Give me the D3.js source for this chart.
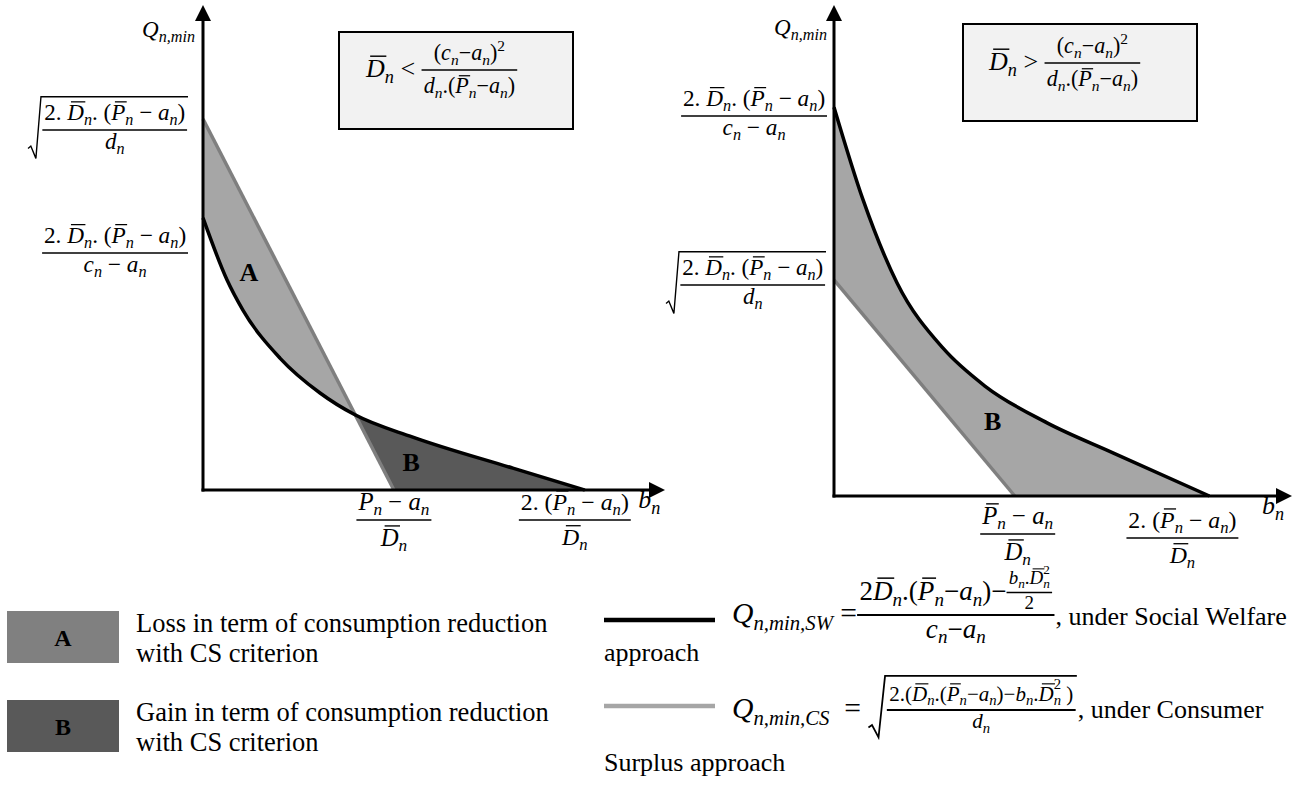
<!DOCTYPE html>
<html><head><meta charset="utf-8">
<script src="https://cdn.jsdelivr.net/npm/d3@7"></script>
<style>body{margin:0;background:#fff}svg{display:block}text{white-space:pre}</style>
</head><body>
<svg id="c" width="1308" height="798"></svg>
<script>
// ---------------- data ----------------
const bLeftSW  = [0, 0.126, 0.209, 0.403, 0.613, 0.796, 1.099, 1.623, 2.0];
const qLeftSW  = [56.1, 43.3, 37.1, 27.2, 20.0, 15.5, 10.9, 4.5, 0];
const bLeftCS  = [0, 1.0];
const qLeftCS  = [76.5, 0];
const bRightSW = [0, 0.155, 0.336, 0.581, 0.804, 1.135, 1.486, 2.0];
const qRightSW = [79.2, 60.3, 43.4, 30.1, 22.4, 14.9, 8.8, 0];
const bRightCS = [0, 0.963];
const qRightCS = [44.0, 0];
const regionLetters = ["A", "B", "B"];
const legendAreaLabels = ["A", "B"];
const legendAreaText = [["Loss in term of consumption reduction", "with CS criterion"],
                        ["Gain in term of consumption reduction", "with CS criterion"]];
const legendLineTail = [", under Social Welfare", ", under Consumer"];
const legendLineWrap = ["approach", "Surplus approach"];

// ---------------- setup ----------------
const svg = d3.select('#c');
const MF = "'Liberation Serif','Times New Roman',serif";
const meas = svg.append('text').attr('x', -2000).attr('y', -2000).style('font-family', MF);
function tw(s, size, it, bold) {
  meas.style('font-size', size + 'px').style('font-style', it ? 'italic' : 'normal')
      .style('font-weight', bold ? 'bold' : 'normal').text(s);
  return meas.node().getComputedTextLength();
}
const v = (s, bar) => ({k: 't', s, it: true, bar: !!bar});
const r = s => ({k: 't', s, it: false});
const sb = s => ({k: 'sub', s});
const sup = s => ({k: 'sup', s});
const ss = (a, b) => ({k: 'subsup', a, b});
const fr = (num, den, sc) => ({k: 'frac', num, den, sc: sc || 1});
const sq = body => ({k: 'sqrt', body});

function txt(g, s, x, y, S, it) {
  return g.append('text').attr('x', x).attr('y', y).style('font-family', MF)
    .style('font-size', S + 'px').style('font-style', it ? 'italic' : 'normal').text(s);
}
function box(n, S) {
  if (n.k === 't') {
    const w = tw(n.s, S, n.it);
    return {w, asc: S * (n.bar ? 0.92 : 0.7), desc: S * 0.22, draw(g, x, y) {
      txt(g, n.s, x, y, S, n.it);
      if (n.bar) {
        const sh = n.it ? 0.16 * S : 0.04 * S;
        g.append('line').attr('x1', x + sh).attr('x2', x + w + (n.it ? 0.06 * S : 0))
          .attr('y1', y - 0.8 * S).attr('y2', y - 0.8 * S)
          .attr('stroke', '#000').attr('stroke-width', Math.max(1, S * 0.055));
      }
    }};
  }
  if (n.k === 'sub' || n.k === 'sup') {
    const S2 = S * 0.7, w = tw(n.s, S2, n.k === 'sub');
    const sh = n.k === 'sub' ? 0.22 * S : -0.42 * S;
    return {w, asc: n.k === 'sub' ? 0.4 * S : 0.42 * S + 0.7 * S2, desc: n.k === 'sub' ? sh + 0.2 * S2 : 0,
      draw(g, x, y) { txt(g, n.s, x, y + sh, S2, n.k === 'sub'); }};
  }
  if (n.k === 'subsup') {
    const S2 = S * 0.7, wa = tw(n.a, S2, true), wb = tw(n.b, S2, false);
    return {w: Math.max(wa, wb), asc: 0.55 * S + 0.7 * S2, desc: 0.22 * S + 0.2 * S2,
      draw(g, x, y) { txt(g, n.a, x, y + 0.22 * S, S2, true); txt(g, n.b, x, y - 0.55 * S, S2, false); }};
  }
  if (n.k === 'frac') {
    const s2 = S * n.sc, N = lay(n.num, s2), D = lay(n.den, s2);
    const pad = 0.08 * S, w = Math.max(N.w, D.w) + 2 * pad, ax = 0.27 * S;
    const nb = -ax - 0.06 * S - N.desc, db = -ax + 0.12 * S + D.asc;
    return {w, asc: -nb + N.asc, desc: db + D.desc, draw(g, x, y) {
      g.append('line').attr('x1', x).attr('x2', x + w).attr('y1', y - ax).attr('y2', y - ax)
        .attr('stroke', '#000').attr('stroke-width', Math.max(1.2, S * 0.06));
      N.draw(g, x + (w - N.w) / 2, y + nb);
      D.draw(g, x + (w - D.w) / 2, y + db);
    }};
  }
  if (n.k === 'sqrt') {
    const B = lay(n.body, S), rw = 0.62 * S, top = B.asc + 0.1 * S, w = rw + B.w + 0.04 * S;
    return {w, asc: top + 0.05 * S, desc: B.desc + 0.05 * S, draw(g, x, y) {
      B.draw(g, x + rw, y);
      const yb = y + B.desc + 0.05 * S, yt = y - top, h = yb - yt;
      g.append('path').attr('d', `M${x},${yb - 0.16 * h}L${x + 0.12 * S},${yb - 0.2 * h}L${x + 0.34 * S},${yb}L${x + 0.56 * S},${yt}L${x + w},${yt}`)
        .attr('fill', 'none').attr('stroke', '#000').attr('stroke-width', Math.max(1.2, S * 0.06));
    }};
  }
}
function lay(list, S) {
  const bs = list.map(n => box(n, S));
  let w = 0, asc = 0, desc = 0;
  bs.forEach(b => { w += b.w; asc = Math.max(asc, b.asc); desc = Math.max(desc, b.desc); });
  return {w, asc, desc, draw(g, x, y) { let cx = x; bs.forEach(b => { b.draw(g, cx, y); cx += b.w; }); }};
}
function fitS(list, W) { return 20 * W / lay(list, 20).w; }
function place(g, list, S, x, y, anchor) {
  const L = lay(list, S);
  const x0 = anchor === 'end' ? x - L.w : anchor === 'middle' ? x - L.w / 2 : x;
  L.draw(g, x0, y);
  return {x0, w: L.w, end: x0 + L.w};
}

const Dbar_n = [v('D', 1), sb('n')];
const Pbar_n = [v('P', 1), sb('n')];
const num1 = [r('2. '), ...Dbar_n, r('. ('), ...Pbar_n, r(' − '), v('a'), sb('n'), r(')')];
const den_d = [v('d'), sb('n')];
const den_ca = [v('c'), sb('n'), r(' − '), v('a'), sb('n')];
const qmin = [v('Q'), sb('n,min')];
const xlab1 = [fr([...Pbar_n, r(' − '), v('a'), sb('n')], Dbar_n)];
const xlab2 = [fr([r('2. ('), ...Pbar_n, r(' − '), v('a'), sb('n'), r(')')], Dbar_n)];
const bn = [v('b'), sb('n')];

// ---------------- charts ----------------
function chart(cfg) {
  const g = svg.append('g');
  const x = d3.scaleLinear().domain([0, cfg.xMax]).range(cfg.xr);
  const y = d3.scaleLinear().domain([0, 100]).range(cfg.yr);
  const sw = cfg.bSW.map((b, i) => [b, cfg.qSW[i]]);
  const cs = cfg.bCS.map((b, i) => [b, cfg.qCS[i]]);
  const curve = d3.curveMonotoneX;
  const area = d3.area().x(d => x(d[0])).y0(y(0)).y1(d => y(d[1])).curve(curve);
  const line = d3.line().x(d => x(d[0])).y(d => y(d[1])).curve(curve);
  const csLine = d3.line().x(d => x(d[0])).y(d => y(d[1]));
  const csArea = d3.area().x(d => x(d[0])).y0(y(0)).y1(d => y(d[1]));
  const id = cfg.id;
  if (cfg.cross) {
    const csAt = b => Math.max(0, cfg.qCS[0] + (cfg.qCS[1] - cfg.qCS[0]) * b / cfg.bCS[1]);
    let bi = 0;
    for (let i = 1; i < sw.length; i++) {
      const d0 = sw[i - 1][1] - csAt(sw[i - 1][0]), d1 = sw[i][1] - csAt(sw[i][0]);
      if (d0 < 0 && d1 >= 0) { bi = sw[i - 1][0] + (sw[i][0] - sw[i - 1][0]) * (-d0) / (d1 - d0); break; }
    }
    const xi = Math.round(x(bi));
    const defs = g.append('defs');
    defs.append('clipPath').attr('id', id + 'L').append('rect').attr('x', 0).attr('y', 0).attr('width', xi).attr('height', 800);
    defs.append('clipPath').attr('id', id + 'R').append('rect').attr('x', xi).attr('y', 0).attr('width', 1400).attr('height', 800);
    g.append('path').attr('d', csArea(cs)).attr('fill', '#a6a6a6').attr('clip-path', `url(#${id}L)`);
    g.append('path').attr('d', area(sw)).attr('fill', '#595959').attr('clip-path', `url(#${id}R)`);
    g.append('path').attr('d', area(sw)).attr('fill', '#fff').attr('clip-path', `url(#${id}L)`);
    g.append('path').attr('d', csArea(cs)).attr('fill', '#fff').attr('clip-path', `url(#${id}R)`);
  } else {
    g.append('path').attr('d', area(sw)).attr('fill', '#a6a6a6');
    g.append('path').attr('d', csArea(cs)).attr('fill', '#fff');
  }
  g.append('path').attr('d', csLine(cs)).attr('fill', 'none').attr('stroke', '#7f7f7f').attr('stroke-width', 3.5);
  g.append('path').attr('d', line(sw)).attr('fill', 'none').attr('stroke', '#000').attr('stroke-width', 3.5);
  const x0 = x(0), y0 = y(0), xt = x.range()[1], yt = y.range()[1];
  g.append('line').attr('x1', x0).attr('x2', x0).attr('y1', y0 + 1.5).attr('y2', yt + 12).attr('stroke', '#000').attr('stroke-width', 3);
  g.append('line').attr('x1', x0 - 1.5).attr('x2', xt - 12).attr('y1', y0).attr('y2', y0).attr('stroke', '#000').attr('stroke-width', 3);
  g.append('path').attr('d', `M${x0},${yt}L${x0 - 8},${yt + 16}L${x0 + 8},${yt + 16}Z`).attr('fill', '#000');
  g.append('path').attr('d', `M${xt},${y0}L${xt - 16},${y0 - 8}L${xt - 16},${y0 + 8}Z`).attr('fill', '#000');
  return {g, x, y};
}

const L = chart({id: 'cl', xMax: 2.42, xr: [203, 665], yr: [490, 5], bSW: bLeftSW, qSW: qLeftSW, bCS: bLeftCS, qCS: qLeftCS, cross: true});
const R = chart({id: 'cr', xMax: 2.44, xr: [834, 1292], yr: [496, 5], bSW: bRightSW, qSW: qRightSW, bCS: bRightCS, qCS: qRightCS, cross: false});

const T = svg.append('g');
const Sq = fitS(qmin, 53);
place(T, qmin, Sq, L.x(0) - 8, 37, 'end');
place(T, qmin, Sq, R.x(0) - 7, 35, 'end');
const sqrtLab = [sq([fr(num1, den_d)])];
const fracLab = [fr(num1, den_ca)];
const Ssq = fitS(sqrtLab, 160), Sfr = fitS(fracLab, 146);
place(T, sqrtLab, Ssq, L.x(0) - 15, 130 + 0.27 * Ssq, 'end');
place(T, fracLab, Sfr, L.x(0) - 15, 253 + 0.27 * Sfr, 'end');
place(T, fracLab, Sfr, R.x(0) - 7, 116 + 0.27 * Sfr, 'end');
place(T, sqrtLab, Ssq, R.x(0) - 8, 285 + 0.27 * Ssq, 'end');
const Sx1 = fitS(xlab1, 75), Sx2 = fitS(xlab2, 112);
place(T, xlab1, Sx1, L.x(1), 520 + 0.27 * Sx1, 'middle');
place(T, xlab2, Sx2, L.x(2) - 10, 520 + 0.27 * Sx2, 'middle');
place(T, xlab1, Sx1, R.x(1) - 4, 534 + 0.27 * Sx1, 'middle');
place(T, xlab2, Sx2, R.x(2) - 27, 538 + 0.27 * Sx2, 'middle');
const Sb = fitS(bn, 22);
place(T, bn, Sb, L.x(2.28), 508, 'start');
place(T, bn, Sb, R.x(2.28), 514, 'start');

const regPos = [[L, 0.24, 43], [L, 1.09, 4], [R, 0.845, 13.5]];
regionLetters.forEach((s, i) => {
  const [C, b, q] = regPos[i];
  T.append('text').attr('x', C.x(b)).attr('y', C.y(q)).attr('text-anchor', 'middle')
    .style('font-family', MF).style('font-weight', 'bold').style('font-size', '26px').text(s);
});

function condBox(x0, y0, x1, y1, rel, tx, ty) {
  T.append('rect').attr('x', x0).attr('y', y0).attr('width', x1 - x0).attr('height', y1 - y0)
    .attr('fill', '#f2f2f2').attr('stroke', '#000').attr('stroke-width', 2);
  const f = [v('D', 1), sb('n'), r(' ' + rel + ' '),
    fr([r('('), v('c'), sb('n'), r('−'), v('a'), sb('n'), r(')'), sup('2')],
       [v('d'), sb('n'), r('.('), v('P', 1), sb('n'), r('−'), v('a'), sb('n'), r(')')], 0.85)];
  place(T, f, 26, tx, ty, 'start');
}
condBox(339, 32, 573, 129, '<', 366, 77);
condBox(963, 24, 1197, 121, '>', 989, 70);

// ---------------- legend ----------------
const legColors = ['#808080', '#595959'];
const legY = [611, 700];
const LF = 26;
legendAreaLabels.forEach((s, i) => {
  T.append('rect').attr('x', 7).attr('y', legY[i]).attr('width', 112).attr('height', 52).attr('fill', legColors[i]);
  T.append('text').attr('x', 63).attr('y', legY[i] + 35).attr('text-anchor', 'middle')
    .style('font-family', MF).style('font-weight', 'bold').style('font-size', '24px').text(s);
  legendAreaText[i].forEach((line, j) => {
    T.append('text').attr('x', 136).attr('y', legY[i] + 21 + 30 * j)
      .style('font-family', MF).style('font-size', (LF + 0.5) + 'px').text(line);
  });
});
T.append('line').attr('x1', 604).attr('x2', 715).attr('y1', 620).attr('y2', 620).attr('stroke', '#000').attr('stroke-width', 4.5);
T.append('line').attr('x1', 604).attr('x2', 715).attr('y1', 706).attr('y2', 706).attr('stroke', '#a6a6a6').attr('stroke-width', 4.5);

const SL = fitS([v('Q'), sb('n,min,SW')], 101);
const swFrac = fr([r('2'), v('D', 1), sb('n'), r('.('), v('P', 1), sb('n'), r('−'), v('a'), sb('n'), r(')−'),
                   fr([v('b'), sb('n'), r('.'), v('D', 1), ss('n', '2')], [r('2')], 0.7)],
                  [v('c'), sb('n'), r('−'), v('a'), sb('n')], 1);
swFrac.sc = 197 / lay([swFrac], SL).w;
const e1 = place(T, [v('Q'), sb('n,min,SW'), r(' ='), swFrac], SL, 732, 623, 'start');
T.append('text').attr('x', e1.end + 1).attr('y', 625).style('font-family', MF).style('font-size', LF + 'px').text(legendLineTail[0]);
T.append('text').attr('x', 604).attr('y', 661).style('font-family', MF).style('font-size', LF + 'px').text(legendLineWrap[0]);

const csFrac = fr([r('2.('), v('D', 1), sb('n'), r('.('), v('P', 1), sb('n'), r('−'), v('a'), sb('n'), r(')−'),
                   v('b'), sb('n'), r('.'), v('D', 1), ss('n', '2'), r(' )')],
                  [v('d'), sb('n')], 1);
const csSq = sq([csFrac]);
csFrac.sc = 0.62 * 212 / lay([sq([fr(csFrac.num, csFrac.den, 0.62)])], SL).w;
const e2 = place(T, [v('Q'), sb('n,min,CS'), r('  = '), csSq], SL, 732, 718, 'start');
T.append('text').attr('x', e2.end + 1).attr('y', 718).style('font-family', MF).style('font-size', LF + 'px').text(legendLineTail[1]);
T.append('text').attr('x', 604).attr('y', 771).style('font-family', MF).style('font-size', LF + 'px').text(legendLineWrap[1]);
meas.remove();
</script>
</body></html>
